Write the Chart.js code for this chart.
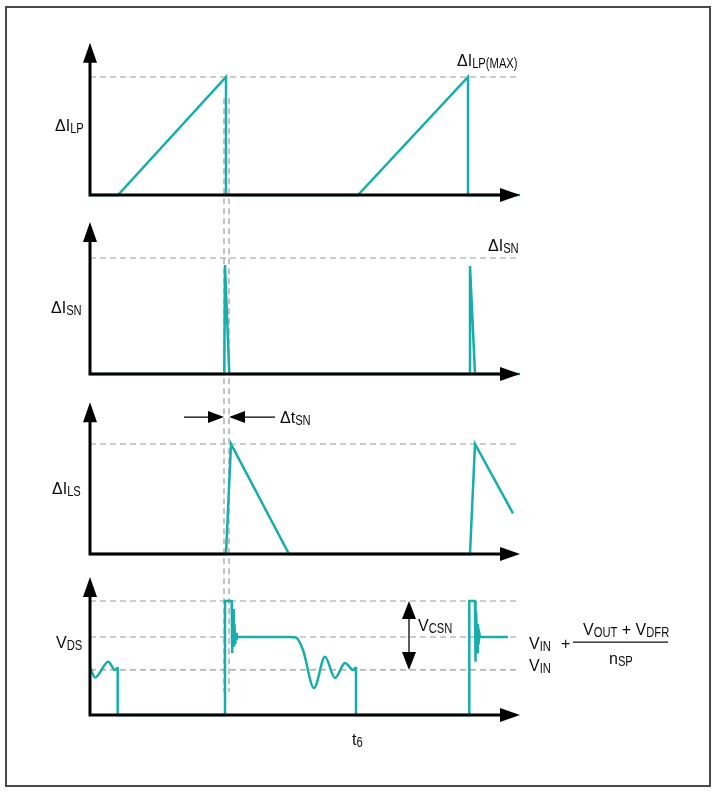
<!DOCTYPE html>
<html>
<head>
<meta charset="utf-8">
<script src="https://cdn.jsdelivr.net/npm/chart.js@4.4.1/dist/chart.umd.min.js"></script>
<style>
  html, body { margin: 0; padding: 0; background: #ffffff; }
  #wrap { position: absolute; left: 0; top: 0; width: 717px; height: 795px; }
</style>
</head>
<body>
<div id="wrap"><canvas id="c" width="717" height="795"></canvas></div>
<script>
// ---- Data (time in arbitrary units, amplitude normalized to the dashed max level) ----
const T_LP = [0, 2.8, 13.6, 13.6, 26.8, 37.8, 37.8, 43];
const V_LP = [0, 0, 1, 0, 0, 1, 0, 0];

const T_SN = [0, 13.43, 13.5, 13.93, 37.9, 38.0, 38.5, 43];
const V_SN = [0, 0, 0.94, 0, 0, 0.93, 0, 0];

const T_LS = [0, 13.6, 14.1, 19.9, 38.0, 38.5, 42.3];
const V_LS = [0, 0, 1, 0, 0, 1, 0.37];

// V_DS pieces
const T_DS_RING1 = [0, 0.5, 1.83, 2.5, 2.77];
const V_DS_RING1 = [0.42, 0.33, 0.468, 0.395, 0.418];

const T_DS_SW1 = [2.77, 2.77, 13.5, 13.5, 14.17, 14.22, 14.3, 14.38, 14.45, 14.52, 14.6, 14.65, 14.7, 20.0];
const V_DS_SW1 = [0.418, 0, 0, 1, 1, 0.544, 0.93, 0.6, 0.8, 0.62, 0.72, 0.66, 0.684, 0.684];

const T_DS_RING2 = [20.0, 20.6, 21.3, 22.4, 23.5, 24.5, 25.5, 26.35, 26.6];
const V_DS_RING2 = [0.684, 0.68, 0.57, 0.237, 0.51, 0.325, 0.456, 0.395, 0.42];

const T_DS_SW2 = [26.6, 26.6, 37.93, 37.93, 38.5, 38.55, 38.62, 38.7, 38.77, 38.85, 38.92, 39.0, 41.8];
const V_DS_SW2 = [0.42, 0, 0, 1, 1, 0.468, 0.9, 0.55, 0.8, 0.62, 0.72, 0.684, 0.684];

// Reference levels (dashed) per panel
const LEVELS_LP = [1];
const LEVELS_SN = [1];
const LEVELS_LS = [1];
const LEVELS_DS = [1, 0.684, 0.395];

// Vertical timing markers (dashed)
const T_MARKS = [13.4, 13.9];
const V_CSN_SPAN = [0.395, 1];
const T_VCSN = 31.9;
const TICK_LABEL = 't6';
const T_TICK = 26.2;

// ---- Layout of the four stacked panels on the single y scale ----
const PANEL_BASE = [600, 421, 241, 80];
const PANEL_SCALE = [118, 116, 110, 114];
const AXIS_TOP = [1.29, 1.31, 1.38, 1.21];
const T_END = 43;

const TEAL = '#16aeab';
const GRAY = '#9a9a9a';
const FONT = '"Liberation Sans", Arial, sans-serif';

function yv(p, v) { return PANEL_BASE[p] + v * PANEL_SCALE[p]; }
function pts(T, V, p) { return T.map((t, i) => ({ x: t, y: yv(p, V[i]) })); }

const datasets = [];
function teal(T, V, p, smooth) {
  datasets.push({
    data: pts(T, V, p), showLine: true, pointRadius: 0, borderColor: TEAL,
    borderWidth: 2.5, order: 0, fill: false,
    tension: smooth ? 0.4 : 0, cubicInterpolationMode: smooth ? 'monotone' : 'default',
    borderJoinStyle: 'miter'
  });
}
teal(T_LP, V_LP, 0);
teal(T_SN, V_SN, 1);
teal(T_LS, V_LS, 2);
teal(T_DS_RING1, V_DS_RING1, 3, true);
teal(T_DS_SW1, V_DS_SW1, 3);
teal(T_DS_RING2, V_DS_RING2, 3, true);
teal(T_DS_SW2, V_DS_SW2, 3);

function dashed(data) {
  datasets.push({
    data, showLine: true, pointRadius: 0, borderColor: GRAY, borderWidth: 1.2,
    borderDash: [6, 4], order: 2, fill: false
  });
}
[[LEVELS_LP, 0], [LEVELS_SN, 1], [LEVELS_LS, 2], [LEVELS_DS, 3]].forEach(([lv, p]) => {
  lv.forEach(v => dashed([{ x: 0, y: yv(p, v) }, { x: T_END, y: yv(p, v) }]));
});
T_MARKS.forEach(t => dashed([{ x: t, y: yv(0, 0.82) }, { x: t, y: yv(3, 0.2) }]));

const MAIN_FONT = '16px ' + FONT;
const SUB_FONT = '14px ' + FONT;
const SUB_SQUEEZE = 0.8;

function richText(ctx, x, y, parts) {
  let cx = x;
  parts.forEach(([txt, sub]) => {
    if (sub) {
      ctx.font = SUB_FONT;
      const w = ctx.measureText(txt).width * SUB_SQUEEZE;
      ctx.save();
      ctx.translate(cx, y + 2);
      ctx.scale(SUB_SQUEEZE, 1);
      ctx.fillText(txt, 0, 0);
      ctx.restore();
      cx += w;
    } else {
      ctx.font = MAIN_FONT;
      ctx.fillText(txt, cx, y);
      cx += ctx.measureText(txt).width;
    }
  });
}

const diagramPlugin = {
  id: 'diagram',
  afterDatasetsDraw(chart) {
    const ctx = chart.ctx;
    const xs = chart.scales.x, ys = chart.scales.y;
    const X = t => xs.getPixelForValue(t);
    const Y = (p, v) => ys.getPixelForValue(yv(p, v));
    ctx.save();
    // frame
    ctx.strokeStyle = '#4a4a4a';
    ctx.lineWidth = 2;
    ctx.strokeRect(6, 7, 704, 779);

    // axes
    ctx.fillStyle = '#000';
    ctx.strokeStyle = '#000';
    ctx.lineWidth = 3;
    for (let p = 0; p < 4; p++) {
      const x0 = X(0), y0 = Y(p, 0), yt = Y(p, AXIS_TOP[p]), xe = X(T_END);
      ctx.beginPath();
      ctx.moveTo(x0, y0 + 1.5); ctx.lineTo(x0, yt + 16);
      ctx.moveTo(x0 - 1.5, y0); ctx.lineTo(xe - 16, y0);
      ctx.stroke();
      ctx.beginPath();
      ctx.moveTo(x0, yt); ctx.lineTo(x0 - 7, yt + 20); ctx.lineTo(x0 + 7, yt + 20); ctx.closePath();
      ctx.fill();
      ctx.beginPath();
      ctx.moveTo(xe, y0); ctx.lineTo(xe - 20, y0 - 7); ctx.lineTo(xe - 20, y0 + 7); ctx.closePath();
      ctx.fill();
    }

    // delta t_SN arrows
    ctx.lineWidth = 1.3;
    const ya = Y(2, 1.245);
    const xl = X(T_MARKS[0]), xr = X(T_MARKS[1]);
    ctx.beginPath();
    ctx.moveTo(xl - 40, ya); ctx.lineTo(xl - 14, ya);
    ctx.moveTo(xr + 14, ya); ctx.lineTo(xr + 46, ya);
    ctx.stroke();
    ctx.beginPath();
    ctx.moveTo(xl, ya); ctx.lineTo(xl - 16, ya - 6); ctx.lineTo(xl - 16, ya + 6); ctx.closePath(); ctx.fill();
    ctx.beginPath();
    ctx.moveTo(xr, ya); ctx.lineTo(xr + 16, ya - 6); ctx.lineTo(xr + 16, ya + 6); ctx.closePath(); ctx.fill();

    // V_CSN double arrow
    const xv = X(T_VCSN), yb = Y(3, V_CSN_SPAN[0]), ytp = Y(3, V_CSN_SPAN[1]);
    ctx.beginPath(); ctx.moveTo(xv, ytp + 10); ctx.lineTo(xv, yb - 10); ctx.stroke();
    ctx.beginPath(); ctx.moveTo(xv, ytp); ctx.lineTo(xv - 7, ytp + 18); ctx.lineTo(xv + 7, ytp + 18); ctx.closePath(); ctx.fill();
    ctx.beginPath(); ctx.moveTo(xv, yb); ctx.lineTo(xv - 7, yb - 18); ctx.lineTo(xv + 7, yb - 18); ctx.closePath(); ctx.fill();

    // labels
    ctx.fillStyle = '#0d0d0d';
    ctx.textBaseline = 'alphabetic';
    richText(ctx, X(-3.5), Y(0, 0.54), [['ΔI'], ['LP', 1]]);
    richText(ctx, X(36.7), Y(0, 1.093), [['ΔI'], ['LP(MAX)', 1]]);
    richText(ctx, X(-3.9), Y(1, 0.526), [['ΔI'], ['SN', 1]]);
    richText(ctx, X(39.8), Y(1, 1.06), [['ΔI'], ['SN', 1]]);
    richText(ctx, X(-3.8), Y(2, 0.545), [['ΔI'], ['LS', 1]]);
    richText(ctx, X(19.0), Y(2, 1.19), [['Δt'], ['SN', 1]]);
    richText(ctx, X(-3.4), Y(3, 0.588), [['V'], ['DS', 1]]);
    richText(ctx, X(32.8), Y(3, 0.737), [['V'], ['CSN', 1]]);
    richText(ctx, X(43.9), Y(3, 0.579), [['V'], ['IN', 1]]);
    richText(ctx, X(47.1), Y(3, 0.579), [['+']]);
    richText(ctx, X(49.3), Y(3, 0.70), [['V'], ['OUT', 1], [' + V'], ['DFR', 1]]);
    richText(ctx, X(51.9), Y(3, 0.447), [['n'], ['SP', 1]]);
    richText(ctx, X(43.9), Y(3, 0.386), [['V'], ['IN', 1]]);
    richText(ctx, X(T_TICK), Y(3, -0.263), [[TICK_LABEL[0]], [TICK_LABEL.slice(1), 1]]);

    // fraction bar
    ctx.strokeStyle = '#111';
    ctx.lineWidth = 1.2;
    const yf = Y(3, 0.64);
    ctx.beginPath(); ctx.moveTo(X(48.3), yf); ctx.lineTo(X(57.8), yf); ctx.stroke();
    ctx.restore();
  }
};

new Chart(document.getElementById('c'), {
  type: 'scatter',
  data: { datasets },
  options: {
    responsive: false,
    animation: false,
    events: [],
    layout: { padding: 0 },
    plugins: { legend: { display: false }, tooltip: { enabled: false } },
    scales: {
      x: { type: 'linear', min: -9, max: 62.7, display: false },
      y: { type: 'linear', min: 0, max: 795, display: false }
    }
  },
  plugins: [diagramPlugin]
});
</script>
</body>
</html>
